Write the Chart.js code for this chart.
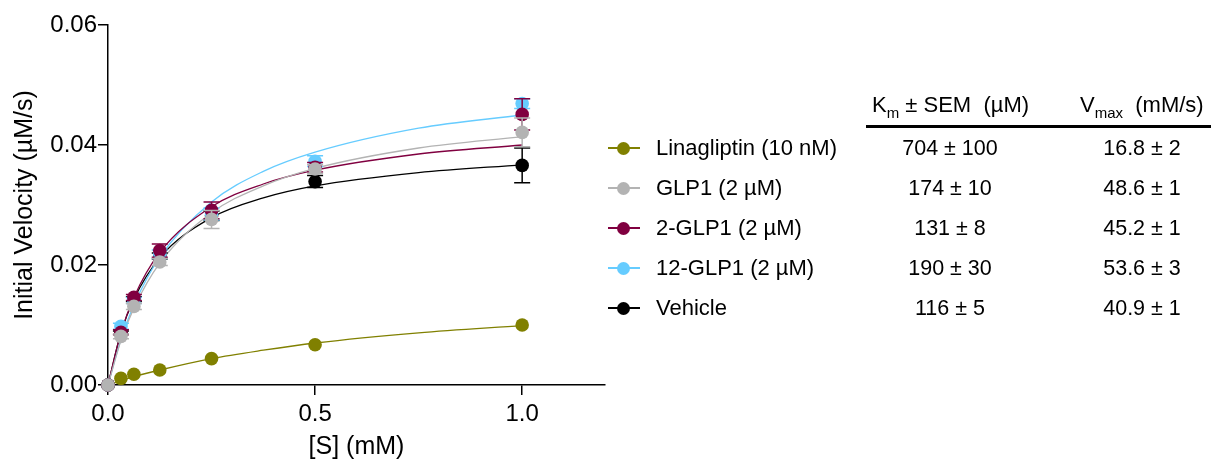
<!DOCTYPE html>
<html>
<head>
<meta charset="utf-8">
<script src="https://cdn.jsdelivr.net/npm/chart.js@4.4.0/dist/chart.umd.min.js"></script>
<style>
  html, body { margin: 0; padding: 0; background: #fff; }
  body { width: 1211px; height: 465px; position: relative; overflow: hidden;
         font-family: "Liberation Sans", Arial, sans-serif; color: #000; }
  #wrap { position: absolute; left: 0; top: 0; width: 1211px; height: 465px; }
  .key { position: absolute; left: 608px; width: 32px; height: 0; }
  .key .ln { position: absolute; left: 0; top: -0.75px; width: 32px; height: 1.5px; }
  .key .dot { position: absolute; left: 9px; top: -6.5px; width: 13px; height: 13px; border-radius: 50%; }
  .lab { position: absolute; left: 656px; font-size: 22px; line-height: 26px; white-space: nowrap; }
  .cell { position: absolute; width: 160px; font-size: 21.5px; line-height: 26px; white-space: nowrap; text-align: center; }
  .head { position: absolute; top: 92px; font-size: 22px; line-height: 26px; white-space: nowrap; }
  .head sub { font-size: 15px; vertical-align: baseline; position: relative; top: 6px; }
  #rule { position: absolute; left: 866px; top: 125px; width: 345px; height: 2.5px; background: #000; }
</style>
</head>
<body>
<div id="wrap"><canvas id="kinetics"></canvas></div>
<div class="head" style="left:872px">K<sub>m</sub> ± SEM&nbsp; (µM)</div>
<div class="head" style="left:1080px">V<sub>max</sub>&nbsp; (mM/s)</div>
<div id="rule"></div>
<div id="table"></div>
<script>
// substrate concentrations (mM) and measured initial velocities (µM/s)
const concentrations = [0, 0.03125, 0.0625, 0.125, 0.25, 0.5, 1];
const linagliptinV = [0, 0.0011, 0.0018, 0.0025, 0.0044, 0.0067, 0.0100];
const glp1V = [0, 0.0081, 0.0131, 0.0205, 0.0276, 0.0360, 0.0421];
const glp1_2V = [0, 0.0088, 0.0146, 0.0224, 0.0291, 0.0363, 0.0451];
const glp1_12V = [0, 0.0098, 0.0141, 0.0218, 0.0285, 0.0373, 0.0469];
const vehicleV = [0, 0.0087, 0.0143, 0.0215, 0.0282, 0.0339, 0.0366];

// SEM
const linagliptinErr = [0, 0, 0, 0, 0, 0, 0];
const glp1Err = [0, 0.0004, 0.0005, 0.0006, 0.0015, 0.0007, 0.0024];
const glp1_2Err = [0, 0.0004, 0.0005, 0.0011, 0.0014, 0.0008, 0.0026];
const glp1_12Err = [0, 0.0005, 0.0005, 0.0007, 0.0010, 0.0009, 0.0008];
const vehicleErr = [0, 0.0003, 0.0004, 0.0005, 0.0008, 0.0010, 0.0029];

// fitted curves
const fitX = [0, 0.03125, 0.0625, 0.125, 0.25, 0.375, 0.5, 0.75, 1];
const linagliptinFit = [0, 0.0007, 0.0014, 0.0025, 0.0044, 0.0058, 0.0070, 0.0087, 0.0099];
const glp1Fit = [0, 0.0074, 0.0128, 0.0203, 0.0287, 0.0332, 0.0361, 0.0395, 0.0414];
const glp1_2Fit = [0, 0.0087, 0.0146, 0.0221, 0.0297, 0.0335, 0.0358, 0.0385, 0.0400];
const glp1_12Fit = [0, 0.0076, 0.0133, 0.0213, 0.0305, 0.0356, 0.0388, 0.0428, 0.0450];
const vehicleFit = [0, 0.0087, 0.0143, 0.0212, 0.0279, 0.0312, 0.0332, 0.0354, 0.0367];

const seriesNames = ["Linagliptin (10 nM)", "GLP1 (2 µM)", "2-GLP1 (2 µM)", "12-GLP1 (2 µM)", "Vehicle"];
const seriesColors = ["#808000", "#b3b3b3", "#800040", "#66ccff", "#000000"];
const kmLabels = ["704 ± 100", "174 ± 10", "131 ± 8", "190 ± 30", "116 ± 5"];
const vmaxLabels = ["16.8 ± 2", "48.6 ± 1", "45.2 ± 1", "53.6 ± 3", "40.9 ± 1"];

const xTicks = [0, 0.5, 1.0];
const yTicks = [0, 0.02, 0.04, 0.06];

const FONT = '"Liberation Sans", Arial, sans-serif';

const values = [linagliptinV, glp1V, glp1_2V, glp1_12V, vehicleV];
const errors = [linagliptinErr, glp1Err, glp1_2Err, glp1_12Err, vehicleErr];
const fits = [linagliptinFit, glp1Fit, glp1_2Fit, glp1_12Fit, vehicleFit];

// index 0 ends up on top
const drawOrder = [1, 2, 3, 4, 0];

const pointSets = drawOrder.map((i) => ({
  label: seriesNames[i],
  data: concentrations.map((x, j) => ({ x: x, y: values[i][j] })),
  errors: errors[i],
  showLine: false,
  pointRadius: 6.8,
  pointHoverRadius: 6.8,
  pointBorderWidth: 0,
  pointBackgroundColor: seriesColors[i],
  borderColor: seriesColors[i],
  clip: false,
}));

const fitSets = drawOrder.map((i) => ({
  label: seriesNames[i] + " fit",
  data: fitX.map((x, j) => ({ x: x, y: fits[i][j] })),
  showLine: true,
  pointRadius: 0,
  borderColor: seriesColors[i],
  borderWidth: 1.3,
  cubicInterpolationMode: "monotone",
  clip: false,
}));

// bars go down right before their own points, so they sit over earlier series
const errorBars = {
  id: "errorBars",
  beforeDatasetDraw(chart, args) {
    const ds = chart.data.datasets[args.index];
    if (!ds.errors) return;
    const ctx = chart.ctx;
    const xs = chart.scales.x, ys = chart.scales.y;
    ctx.save();
    ctx.strokeStyle = ds.borderColor;
    ctx.lineWidth = 1.5;
    ds.data.forEach((p, j) => {
      const e = ds.errors[j];
      if (!e) return;
      const px = xs.getPixelForValue(p.x);
      const top = ys.getPixelForValue(p.y + e);
      const bot = ys.getPixelForValue(p.y - e);
      ctx.beginPath();
      ctx.moveTo(px, top); ctx.lineTo(px, bot);
      ctx.moveTo(px - 8, top); ctx.lineTo(px + 8, top);
      ctx.moveTo(px - 8, bot); ctx.lineTo(px + 8, bot);
      ctx.stroke();
    });
    ctx.restore();
  },
};

new Chart(document.getElementById("kinetics"), {
  type: "scatter",
  data: { datasets: pointSets.concat(fitSets) },
  plugins: [errorBars],
  options: {
    responsive: true,
    maintainAspectRatio: false,
    animation: false,
    events: [],
    layout: { padding: { left: 0, right: 606, top: 25, bottom: 0 } },
    plugins: { legend: { display: false }, tooltip: { enabled: false } },
    scales: {
      x: {
        type: "linear",
        min: 0,
        max: 1.2,
        afterBuildTicks: (s) => { s.ticks = xTicks.map((v) => ({ value: v })); },
        afterFit: (s) => { s.height = 80; },
        grid: { display: true, drawOnChartArea: false, drawTicks: true, tickLength: 10, color: "#000", lineWidth: 1.5 },
        border: { display: true, color: "#000", width: 1.5 },
        ticks: { color: "#000", font: { family: FONT, size: 24 }, padding: 5, maxRotation: 0,
                 callback: (v) => Number(v).toFixed(1) },
        title: { display: true, text: "[S] (mM)", color: "#000", font: { family: FONT, size: 25 },
                 padding: { top: 0, bottom: 3 } },
      },
      y: {
        type: "linear",
        min: 0,
        max: 0.06,
        afterBuildTicks: (s) => { s.ticks = yTicks.map((v) => ({ value: v })); },
        afterFit: (s) => { s.width = 108; },
        grid: { display: true, drawOnChartArea: false, drawTicks: true, tickLength: 10, color: "#000", lineWidth: 1.5 },
        border: { display: true, color: "#000", width: 1.5 },
        ticks: { color: "#000", font: { family: FONT, size: 24 }, padding: 1,
                 callback: (v) => Number(v).toFixed(2) },
        title: { display: true, text: "Initial Velocity (µM/s)", color: "#000", font: { family: FONT, size: 25 },
                 padding: { top: 10, bottom: 0 } },
      },
    },
  },
});

// legend + Km/Vmax table
const table = document.getElementById("table");
seriesNames.forEach((name, i) => {
  const cy = 148 + 40 * i;
  const top = 135 + 40 * i;
  table.insertAdjacentHTML("beforeend",
    `<div class="key" style="top:${cy}px"><div class="ln" style="background:${seriesColors[i]}"></div>` +
    `<div class="dot" style="background:${seriesColors[i]}"></div></div>` +
    `<div class="lab" style="top:${top}px">${name}</div>` +
    `<div class="cell" style="left:870px;top:${top}px">${kmLabels[i]}</div>` +
    `<div class="cell" style="left:1062px;top:${top}px">${vmaxLabels[i]}</div>`);
});
</script>
</body>
</html>
